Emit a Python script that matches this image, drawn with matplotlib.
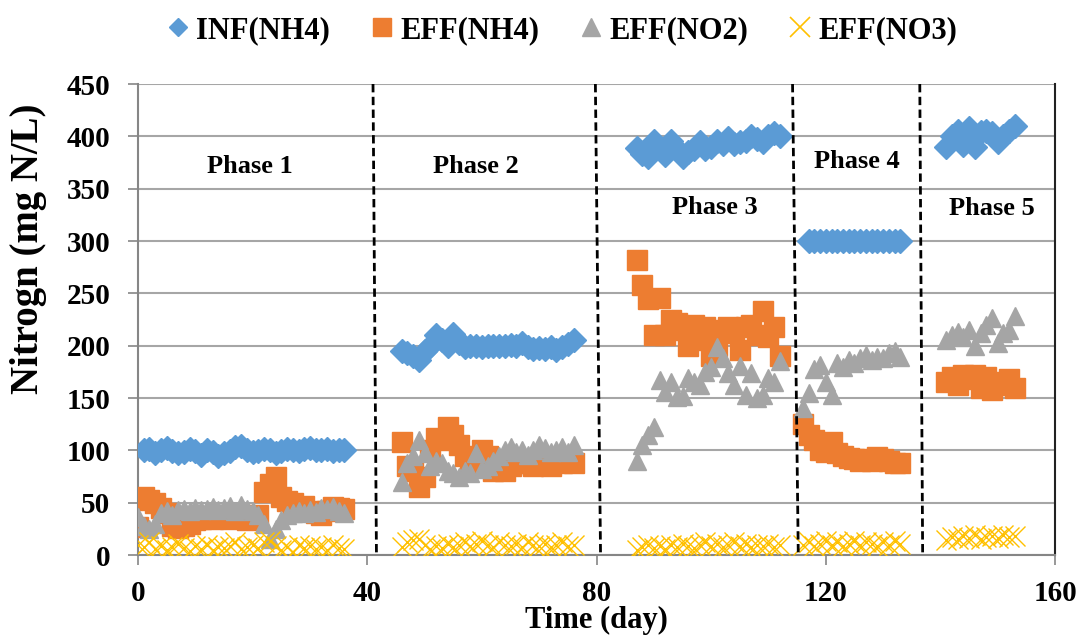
import matplotlib
matplotlib.use("Agg")
import matplotlib.pyplot as plt
from matplotlib.lines import Line2D

plt.rcParams['font.family'] = ['Liberation Serif', 'DejaVu Serif']
plt.rcParams['font.weight'] = 'bold'

# ---- data (day, mg N/L) ----
days_p1 = list(range(0, 37))
days_p2 = list(range(46, 77))
days_p3 = list(range(87, 113))
days_p4 = list(range(116, 134))
days_p5 = list(range(141, 154))

inf_nh4_days = list(range(1, 37)) + days_p2 + days_p3 + list(range(117, 134)) + days_p5
inf_nh4 = [
    # phase 1
    100, 101, 97, 100, 102, 99, 97, 98, 101, 99, 96, 100, 98, 95, 97, 99, 103, 104,
    100, 98, 99, 101, 100, 97, 99, 101, 100, 99, 101, 102, 100, 100, 101, 99, 100, 100,
    # phase 2
    195, 193, 190, 186, 195, 200, 210, 205, 200, 211, 203, 199, 200, 200, 199, 200,
    200, 200, 200, 201, 200, 203, 199, 197, 198, 197, 199, 196, 199, 202, 205,
    # phase 3
    389, 383, 380, 396, 388, 382, 396, 388, 380, 385, 388, 395, 388, 390, 396, 393,
    398, 393, 395, 396, 400, 397, 395, 400, 403, 400,
    # phase 4
    300, 300, 300, 300, 300, 300, 300, 300, 300, 300, 300, 300, 300, 300, 300, 300, 300,
    # phase 5
    390, 400, 405, 392, 408, 390, 404, 405, 403, 395, 400, 405, 410,
]

eff_nh4_days = days_p1 + days_p2 + days_p3 + days_p4 + days_p5
eff_nh4 = [
    # phase 1
    27, 55, 53, 50, 45, 40, 28, 26, 28, 30, 33, 34, 35, 34, 35, 36, 34, 35, 35,
    33, 34, 38, 60, 68, 75, 55, 52, 50, 46, 47, 42, 40, 38, 42, 46, 45, 44,
    # phase 2
    108, 85, 80, 65, 75, 100, 112, 110, 122, 115, 105, 95, 90, 85, 100, 95,
    80, 82, 80, 85, 88, 90, 88, 85, 88, 92, 85, 90, 88, 90, 88,
    # phase 3
    282, 258, 245, 210, 246, 210, 225, 222, 215, 200, 220, 205, 218, 190, 200,
    215, 218, 212, 196, 218, 220, 210, 233, 208, 218, 190,
    # phase 4
    125, 115, 110, 100, 98, 108, 97, 95, 93, 92, 90, 92, 90, 94, 92, 90, 88, 88,
    # phase 5
    165, 170, 162, 172, 168, 172, 160, 170, 158, 165, 162, 168, 160,
]

eff_no2_days = days_p1 + days_p2 + days_p3 + days_p4 + days_p5
eff_no2 = [
    # phase 1
    36, 28, 25, 30, 40, 42, 38, 43, 44, 42, 45, 43, 44, 46, 43, 45, 47, 42, 48,
    44, 42, 38, 30, 15, 25, 33, 38, 40, 42, 40, 43, 41, 45, 44, 46, 42, 40,
    # phase 2
    70, 88, 95, 110, 97, 85, 90, 88, 80, 78, 75, 80, 78, 97, 82, 85,
    90, 95, 100, 103, 98, 100, 96, 100, 105, 102, 98, 100, 103, 98, 105,
    # phase 3
    90, 105, 115, 122, 167, 156, 165, 151, 152, 169, 165, 162, 175, 180, 199,
    188, 174, 162, 181, 153, 174, 150, 153, 169, 165, 185,
    # phase 4
    140, 155, 178, 182, 165, 153, 183, 180, 186, 183, 188, 191, 186, 189, 188, 193, 195, 189,
    # phase 5
    205, 210, 213, 208, 215, 200, 212, 220, 226, 203, 212, 215, 228,
]

eff_no3_days = days_p1 + days_p2 + days_p3 + days_p4 + days_p5
eff_no3 = [
    # phase 1
    10, 8, 12, 6, 9, 5, 8, 11, 7, 4, 9, 6, 10, 5, 8, 7, 9, 12, 6, 8,
    10, 7, 12, 13, 9, 5, 8, 3, 10, 7, 9, 6, 8, 5, 10, 7, 6,
    # phase 2
    8, 12, 14, 15, 10, 6, 9, 7, 11, 8, 10, 12, 9, 11, 13, 10,
    8, 12, 10, 9, 11, 8, 12, 10, 9, 11, 8, 10, 12, 9, 10,
    # phase 3
    5, 8, 10, 7, 9, 6, 10, 8, 11, 9, 7, 10, 12, 9, 11, 8, 10, 12, 9, 11,
    8, 10, 9, 11, 8, 10,
    # phase 4
    10, 12, 9, 11, 13, 10, 12, 9, 11, 13, 10, 12, 11, 9, 12, 10, 13, 11,
    # phase 5
    14, 17, 15, 18, 16, 19, 15, 17, 18, 16, 19, 17, 18,
]

series_names = ["INF(NH4)", "EFF(NH4)", "EFF(NO2)", "EFF(NO3)"]

# phase boundaries (top and bottom ends of the hand-drawn separators)
boundary_top = [41.0, 79.8, 114.2, 136.4]
boundary_bottom = [41.6, 80.7, 115.2, 136.9]

phase_labels = ["Phase 1", "Phase 2", "Phase 3", "Phase 4", "Phase 5"]
phase_label_x = [19.5, 59.0, 100.6, 125.5, 149.0]
phase_label_y = [371, 371, 332, 376, 331]

x_ticks = [0, 40, 80, 120, 160]
y_ticks = list(range(0, 451, 50))

# ---- figure ----
fig = plt.figure(figsize=(10.8, 6.37), dpi=100)
ax = fig.add_axes([0.1278, 0.1287, 0.8491, 0.7394])

c_blue = "#5B9BD5"
c_orange = "#ED7D31"
c_gray = "#A5A5A5"
c_yellow = "#FFC000"

ax.plot(inf_nh4_days, inf_nh4, ls="none", marker="D", ms=12, color=c_blue,
        mec=c_blue, zorder=3)
ax.plot(eff_nh4_days, eff_nh4, ls="none", marker="s", ms=14, color=c_orange,
        mec=c_orange, zorder=4)
ax.plot(eff_no2_days, eff_no2, ls="none", marker="^", ms=13.5, color=c_gray,
        mec=c_gray, zorder=5)
ax.plot(eff_no3_days, eff_no3, ls="none", marker="x", ms=14, mew=1.0,
        color=c_yellow, zorder=6)

for xt, xb in zip(boundary_top, boundary_bottom):
    ax.plot([xt, xb], [450, 0], color="black", lw=2, ls=(0, (3, 1.6)), zorder=7)

for lab, lx, ly in zip(phase_labels, phase_label_x, phase_label_y):
    ax.text(lx, ly, lab, ha="center", va="center", fontsize=19, fontweight="bold")

ax.set_xlim(0, 160)
ax.set_ylim(0, 450)
ax.set_xticks(x_ticks)
ax.set_yticks(y_ticks)
ax.yaxis.grid(True, color="#A6A6A6", lw=1.5)
ax.set_axisbelow(True)

for side in ["left", "bottom"]:
    ax.spines[side].set_color("#868686")
    ax.spines[side].set_linewidth(1.5)
ax.spines["top"].set_visible(False)
ax.spines["right"].set_color("#222222")
ax.spines["right"].set_linewidth(1.5)

ax.tick_params(axis="both", direction="out", length=7, width=1.2, color="#868686",
               labelsize=21)
ax.tick_params(axis="x", pad=11)
ax.tick_params(axis="y", pad=13)
for t in ax.get_xticklabels() + ax.get_yticklabels():
    t.set_fontweight("bold")

fig.text(596 / 1080, 1 - 620 / 637, "Time (day)", ha="center", va="center",
         fontsize=22, fontweight="bold")
fig.text(29 / 1080, 1 - 249 / 637, "Nitrogn (mg N/L)", ha="center", va="center",
         rotation=90, fontsize=28, fontweight="bold")

handles = [
    Line2D([], [], ls="none", marker="D", ms=9, color=c_blue),
    Line2D([], [], ls="none", marker="s", ms=13, color=c_orange),
    Line2D([], [], ls="none", marker="^", ms=13, color=c_gray),
    Line2D([], [], ls="none", marker="x", ms=14, mew=1.2, color=c_yellow),
]
fig.legend(handles, series_names, loc="center", bbox_to_anchor=(0.52, 0.952),
           ncol=4, frameon=False, handlelength=0.8, handletextpad=0.2,
           columnspacing=1.3, prop={"size": 22, "weight": "bold"})

fig.savefig("out.png", dpi=100)
